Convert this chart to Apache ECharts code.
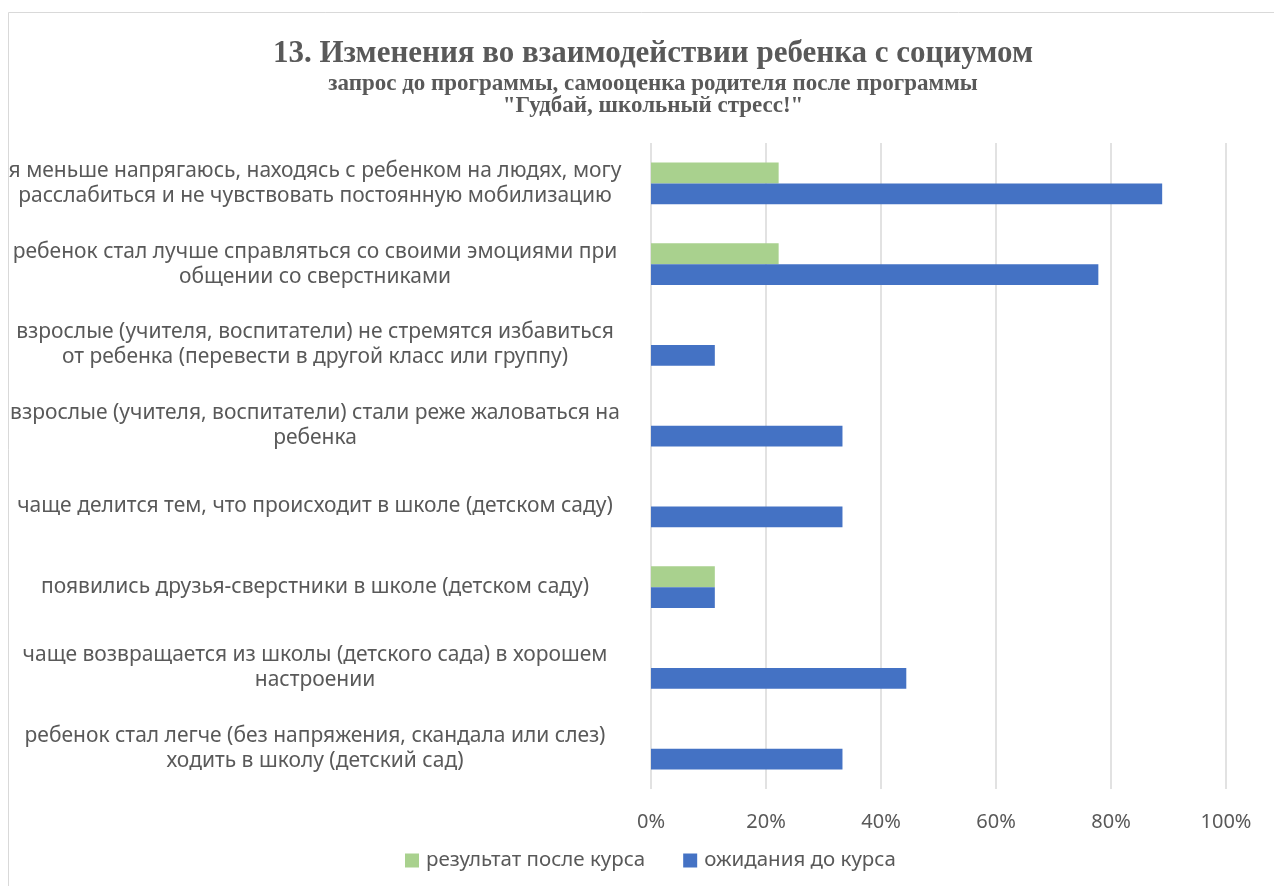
<!DOCTYPE html>
<html>
<head>
<meta charset="utf-8">
<script src="https://cdn.jsdelivr.net/npm/echarts@6/dist/echarts.min.js"></script>
<style>
  html, body { margin: 0; padding: 0; background: #fff; }
  #chart { width: 1274px; height: 886px; }
</style>
</head>
<body>
<div id="chart"></div>
<script>
// категории (сверху вниз)
var categories = [
  'я меньше напрягаюсь, находясь с ребенком на людях, могу\nрасслабиться и не чувствовать постоянную мобилизацию',
  'ребенок стал лучше справляться со своими эмоциями при\nобщении со сверстниками',
  'взрослые (учителя, воспитатели) не стремятся избавиться\nот ребенка (перевести в другой класс или группу)',
  'взрослые (учителя, воспитатели) стали реже жаловаться на\nребенка',
  'чаще делится тем, что происходит в школе (детском саду)',
  'появились друзья-сверстники в школе (детском саду)',
  'чаще возвращается из школы (детского сада) в хорошем\nнастроении',
  'ребенок стал легче (без напряжения, скандала или слез)\nходить в школу (детский сад)'
];
var afterCourse = [22.2, 22.2, 0, 0, 0, 11.1, 0, 0];
var beforeCourse = [88.9, 77.8, 11.1, 33.3, 33.3, 11.1, 44.4, 33.3];
var xTicks = [0, 20, 40, 60, 80, 100];

var labelColor = '#595959';
var sans = '"Noto Sans", sans-serif';

var myChart = echarts.init(document.getElementById('chart'));
myChart.setOption({
  animation: false,
  title: {
    text: '13. Изменения во взаимодействии ребенка с социумом',
    subtext: 'запрос до программы, самооценка родителя после программы\n"Гудбай, школьный стресс!"',
    left: 648,
    textAlign: 'center',
    top: 33,
    itemGap: 4,
    textStyle: { fontFamily: '"Liberation Serif", serif', fontWeight: 'bold', fontSize: 31, color: labelColor },
    subtextStyle: { fontFamily: '"Liberation Serif", serif', fontWeight: 'bold', fontSize: 23, color: labelColor, lineHeight: 22 }
  },
  graphic: [{
    type: 'rect',
    shape: { x: 8.5, y: 12.5, width: 1280, height: 900 },
    style: { fill: 'none', stroke: '#d9d9d9', lineWidth: 1 },
    silent: true
  }],
  legend: {
    data: ['результат после курса', 'ожидания до курса'],
    left: 400,
    top: 845,
    itemWidth: 14,
    itemHeight: 14,
    itemGap: 38,
    icon: 'rect',
    textStyle: { fontFamily: sans, fontSize: 20.5, color: labelColor, padding: [0, 0, 0, 2] }
  },
  grid: { left: 651, right: 48, top: 143, bottom: 97 },
  xAxis: {
    type: 'value',
    min: 0,
    max: 100,
    interval: 20,
    axisLine: { show: false },
    axisTick: { show: false },
    splitLine: { lineStyle: { color: '#d9d9d9', width: 1.5 } },
    axisLabel: {
      margin: 23,
      fontFamily: sans, fontSize: 20, color: labelColor,
      formatter: function (v) { return xTicks.indexOf(v) >= 0 ? v + '%' : ''; }
    }
  },
  yAxis: {
    type: 'category',
    inverse: true,
    data: categories,
    axisLine: { show: false },
    axisTick: { show: false },
    axisLabel: {
      align: 'center',
      margin: 336,
      lineHeight: 25,
      fontFamily: sans, fontSize: 21, color: labelColor
    }
  },
  series: [
    {
      name: 'результат после курса',
      type: 'bar',
      barGap: '0%',
      barCategoryGap: '48%',
      itemStyle: { color: '#a9d18e' },
      data: afterCourse
    },
    {
      name: 'ожидания до курса',
      type: 'bar',
      barGap: '0%',
      barCategoryGap: '48%',
      itemStyle: { color: '#4472c4' },
      data: beforeCourse
    }
  ]
});
</script>
</body>
</html>
